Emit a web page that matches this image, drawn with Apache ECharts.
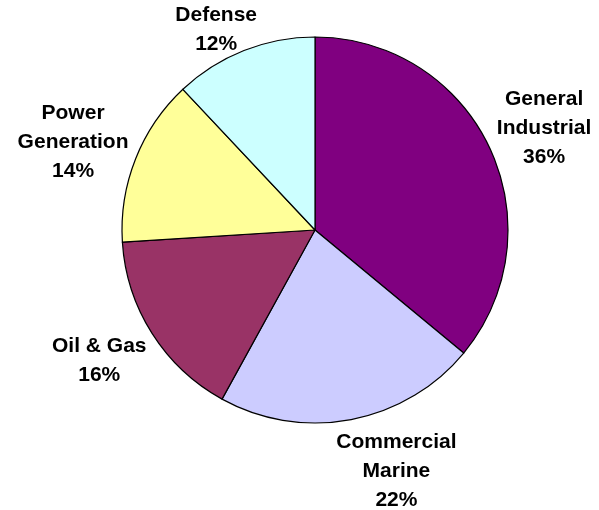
<!DOCTYPE html>
<html>
<head>
<meta charset="utf-8">
<script src="https://cdn.jsdelivr.net/npm/echarts@6/dist/echarts.min.js"></script>
<style>
html,body{margin:0;padding:0;background:#fff;}
#chart{width:599px;height:510px;}
</style>
</head>
<body>
<div id="chart"></div>
<script>
const categories = ['General\nIndustrial', 'Commercial\nMarine', 'Oil & Gas', 'Power\nGeneration', 'Defense'];
const values = [36, 22, 16, 14, 12];
const colors = ['#800080', '#CCCCFF', '#993366', '#FFFF99', '#CCFFFF'];
// label placement styling (not data)
const labelGap = [58, 60, 59, 64, 32];
const labelNudge = [[-3, 5], [29, -7], [2, -4], [2, 7], [-11, 9]];

const chart = echarts.init(document.getElementById('chart'));
const data = categories.map((c, i) => ({
  name: c,
  value: values[i],
  itemStyle: { color: colors[i] },
  labelLine: { length: labelGap[i], length2: 0 }
}));
chart.setOption({
  animation: false,
  backgroundColor: '#fff',
  series: [{
    type: 'pie',
    center: [315, 230],
    radius: 193,
    startAngle: 90,
    clockwise: true,
    avoidLabelOverlap: false,
    padAngle: 0,
    data: data,
    itemStyle: { borderColor: '#000', borderWidth: 1.2 },
    label: {
      show: true,
      position: 'outside',
      formatter: '{b}\n{d}%',
      fontFamily: 'Liberation Sans, Arial, sans-serif',
      fontWeight: 'bold',
      fontSize: 21,
      lineHeight: 29,
      color: '#000',
      distance: 0,
      align: 'center'
    },
    labelLine: { show: false },
    labelLayout: function (p) {
      const n = labelNudge[p.dataIndex];
      return { align: 'center', verticalAlign: 'middle', dx: n[0], dy: n[1] };
    },
    emphasis: { disabled: true }
  }]
});
</script>
</body>
</html>
